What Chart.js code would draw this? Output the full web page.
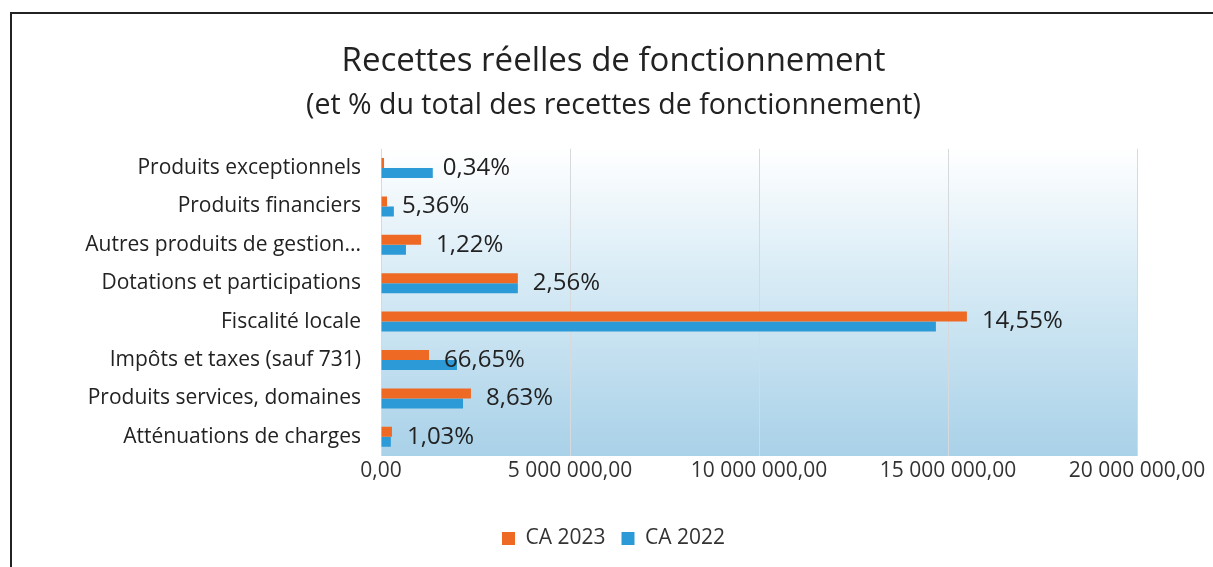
<!DOCTYPE html>
<html>
<head>
<meta charset="utf-8">
<script src="https://cdn.jsdelivr.net/npm/chart.js@4"></script>
<style>
  html, body { margin: 0; padding: 0; background: #fff; overflow: hidden; }
  #frame { position: absolute; left: 10px; top: 12px; width: 1400px; height: 800px;
           border-top: 2px solid #222; border-left: 2px solid #222; }
  #wrap { position: absolute; left: 0; top: 0; width: 1213px; height: 567px; }
</style>
</head>
<body>
<div id="frame"></div>
<div id="wrap"><canvas id="myChart" width="1213" height="567"></canvas></div>
<script>
// categories, top to bottom
const categories = [
  'Produits exceptionnels',
  'Produits financiers',
  'Autres produits de gestion...',
  'Dotations et participations',
  'Fiscalité locale',
  'Impôts et taxes (sauf 731)',
  'Produits services, domaines',
  'Atténuations de charges'
];
// values (euros)
const ca2023 = [80000, 160000, 1060000, 3620000, 15500000, 1270000, 2380000, 290000];
const ca2022 = [1370000, 340000, 660000, 3620000, 14680000, 2010000, 2170000, 260000];
// % labels shown next to the bars
const pctLabels = ['0,34%', '5,36%', '1,22%', '2,56%', '14,55%', '66,65%', '8,63%', '1,03%'];
const xTicks = [0, 5000000, 10000000, 15000000, 20000000];

const FONT = '"Open Sans"';
const ORANGE = '#ee6a24';
const BLUE = '#2b9ad6';

// french number format: "5 000 000,00"
function frNumber(v) {
  let s = Math.round(v).toString().replace(/\B(?=(\d{3})+(?!\d))/g, ' ');
  return s + ',00';
}

// gradient behind the plot area (white at top, light blue at bottom)
const plotBackground = {
  id: 'plotBackground',
  beforeDraw(chart) {
    const ctx = chart.ctx;
    const a = chart.chartArea;
    let g = ctx.createLinearGradient(0, a.top, 0, a.bottom);
    g.addColorStop(0, '#ffffff');
    g.addColorStop(0.4, '#d9ecf6');
    g.addColorStop(1, '#a9d1e8');
    ctx.save();
    ctx.fillStyle = g;
    ctx.fillRect(a.left, a.top, a.right - a.left, a.bottom - a.top);
    ctx.restore();
  }
};

// percentage labels
const pctPlugin = {
  id: 'pctPlugin',
  afterDatasetsDraw(chart) {
    const ctx = chart.ctx;
    const x = chart.scales.x;
    const y = chart.scales.y;
    ctx.save();
    ctx.font = '24px ' + FONT;
    ctx.fillStyle = '#222';
    ctx.textAlign = 'left';
    ctx.textBaseline = 'middle';
    for (let i = 0; i < categories.length; i++) {
      let px = x.getPixelForValue(ca2023[i]) + 15;
      // when the 2023 bar is tiny the label sits past the 2022 bar
      if (ca2023[i] < ca2022[i] * 0.1) {
        px = x.getPixelForValue(ca2022[i]) + 10;
      }
      ctx.fillText(pctLabels[i], px, y.getPixelForValue(i));
    }
    ctx.restore();
  }
};

var ctx = document.getElementById('myChart').getContext('2d');
var myChart = new Chart(ctx, {
  type: 'bar',
  data: {
    labels: categories,
    datasets: [{
      label: 'CA 2023',
      data: ca2023,
      backgroundColor: ORANGE,
      categoryPercentage: 0.52,
      barPercentage: 1.0
    },
    {
      label: 'CA 2022',
      data: ca2022,
      backgroundColor: BLUE,
      categoryPercentage: 0.52,
      barPercentage: 1.0
    }]
  },
  options: {
    indexAxis: 'y',
    responsive: false,
    animation: false,
    layout: { padding: { top: 20, right: 0, bottom: 8, left: 14 } },
    plugins: {
      title: {
        display: true,
        text: 'Recettes réelles de fonctionnement',
        color: '#222',
        font: { family: FONT, size: 33, weight: 'normal' },
        padding: { top: 22, bottom: 0 }
      },
      subtitle: {
        display: true,
        text: '(et % du total des recettes de fonctionnement)',
        color: '#222',
        font: { family: FONT, size: 28.5, weight: 'normal' },
        padding: { top: 7, bottom: 26 }
      },
      legend: {
        position: 'bottom',
        labels: {
          color: '#333',
          font: { family: FONT, size: 21 },
          boxWidth: 13,
          boxHeight: 13,
          padding: 16
        }
      },
      tooltip: { enabled: false }
    },
    scales: {
      x: {
        min: 0,
        max: 20000000,
        afterBuildTicks: function(scale) {
          scale.ticks = xTicks.map(v => ({ value: v }));
        },
        afterFit: function(scale) {
          scale.height = 56;
          scale.paddingRight = 76;
        },
        ticks: {
          color: '#333',
          font: { family: FONT, size: 21 },
          padding: 2,
          maxRotation: 0,
          callback: function(v) { return frNumber(v); }
        },
        grid: { color: '#d6dadd', drawTicks: false },
        border: { display: false }
      },
      y: {
        afterFit: function(scale) { scale.width = 367; },
        ticks: {
          color: '#222',
          font: { family: FONT, size: 21 },
          padding: 20
        },
        grid: { display: false, drawTicks: false },
        border: { display: false }
      }
    }
  },
  plugins: [plotBackground, pctPlugin]
});
</script>
</body>
</html>
